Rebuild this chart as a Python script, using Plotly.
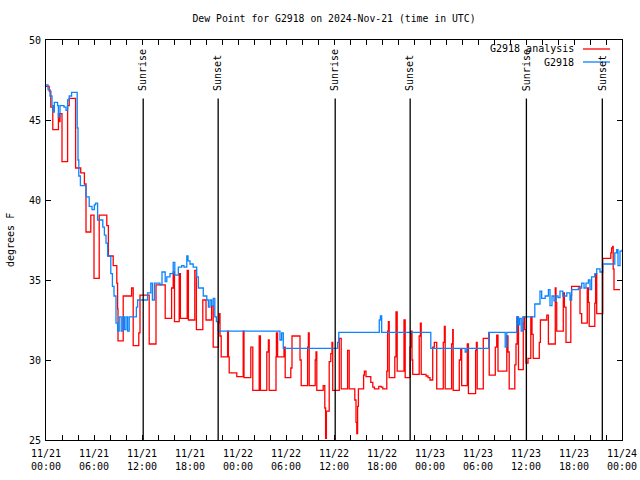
import pandas as pd
import plotly.graph_objects as go

# ---- data (hours since 2024-11-21 00:00 UTC, dew point degrees F) ----
red_hours = [0.0, 0.4, 0.6, 0.85, 1.55, 1.65, 1.75, 2.0, 2.7, 2.9, 3.7, 4.34, 4.8, 5.0, 5.6, 6.0, 6.65, 7.6, 7.8, 8.4,
             8.85, 8.95, 9.0, 9.65, 10.7, 10.9, 11.6, 11.75, 12.9, 13.75, 14.9, 15.7, 15.9, 16.06, 16.65, 16.8, 17.65, 17.8,
             18.6, 18.8, 19.6, 20.0, 20.7, 20.9, 21.55, 21.66, 21.75, 21.9, 22.7, 22.8, 22.9, 23.85, 24.65, 24.75, 25.6,
             25.85, 26.65, 26.8, 27.6, 27.8, 27.9, 28.75, 28.8, 28.95, 29.75, 29.9, 30.6, 30.75, 31.75, 31.9, 32.7, 32.8,
             32.9, 33.65, 33.75, 33.85, 34.65, 34.85, 34.95, 35.05, 35.4, 35.6, 35.75, 35.84, 36.66, 36.9, 37.7, 37.9,
             38.6, 38.75, 38.85, 38.95, 39.05, 39.7, 39.8, 40.0, 40.6, 40.85, 41.05, 41.6, 41.9, 42.1, 42.6, 42.7, 42.8,
             42.9, 43.6, 43.75, 43.9, 44.75, 44.9, 45.5, 45.6, 45.75, 45.84, 46.65, 46.8, 46.9, 47.5, 47.75, 48.0, 48.34,
             48.54, 48.84, 49.66, 49.8, 49.9, 50.7, 50.84, 50.9, 51.66, 51.84, 51.96, 52.66, 52.8, 53.7, 53.8, 53.9,
             54.66, 55.34, 55.4, 56.16, 56.34, 56.5, 57.6, 57.75, 57.9, 58.6, 58.75, 58.9, 59.06, 59.66, 59.75, 59.84,
             60.0, 60.25, 60.6, 60.75, 60.9, 61.66, 61.8, 62.6, 62.8, 63.66, 63.75, 63.84, 64.66, 64.8, 65.0, 65.6, 65.7,
             66.75, 66.96, 67.66, 67.8, 67.9, 68.6, 68.7, 68.84, 69.6, 70.6, 70.7, 70.84, 70.9, 71.0, 71.75]
red_vals = [47.1, 46.8, 45.8, 44.4, 45.4, 44.9, 45.4, 42.4, 45.9, 46.35, 42.0, 41.7, 41.0, 38.0, 39.06, 35.1, 39.06, 38.4,
            36.5, 35.9, 34.8, 33.2, 31.2, 34.0, 34.5, 30.9, 31.7, 34.06, 31.0, 34.7, 32.6, 34.5, 35.5, 32.4, 35.4, 32.6,
            35.6, 32.5, 35.6, 31.9, 33.75, 32.5, 33.4, 30.8, 32.3, 32.9, 31.5, 30.2, 31.8, 30.2, 29.2, 28.96, 31.8, 28.9,
            30.8, 28.1, 31.5, 28.1, 30.5, 31.25, 28.1, 30.2, 31.7, 30.2, 30.8, 28.9, 29.5, 31.5, 30.0, 28.4, 30.8, 31.7,
            28.4, 30.0, 30.5, 28.1, 28.4, 27.0, 25.1, 26.8, 29.9, 30.4, 31.1, 28.1, 31.35, 28.2, 30.6, 28.2, 27.5, 26.1,
            25.4, 27.1, 28.2, 29.06, 29.3, 28.96, 28.6, 28.3, 28.2, 28.35, 28.3, 28.2, 29.3, 31.8, 32.4, 28.9, 30.2, 33.0,
            29.3, 32.5, 28.9, 30.8, 31.8, 30.0, 29.1, 31.5, 32.3, 29.1, 29.0, 28.9, 28.75, 30.8, 31.1, 28.2, 31.1, 32.1,
            28.2, 31.0, 31.9, 28.1, 30.0, 30.7, 28.4, 31.0, 27.9, 30.6, 31.1, 28.2, 31.35, 31.7, 29.06, 30.8, 31.56, 29.3,
            31.5, 30.5, 28.2, 29.7, 31.0, 32.7, 29.4, 32.3, 32.7, 31.9, 29.8, 30.1, 32.7, 31.6, 30.1, 31.1, 32.5, 32.8,
            31.0, 34.5, 33.6, 31.8, 34.2, 33.3, 31.1, 34.06, 34.6, 32.9, 32.3, 34.5, 33.6, 32.1, 33.55, 35.4, 32.9, 36.35,
            36.7, 37.0, 37.1, 35.7, 34.4, 34.4]

blue_hours = [0.0, 0.25, 0.5, 0.75, 0.9, 1.04, 1.45, 1.55, 1.75, 2.25, 2.5, 2.7, 2.9, 3.2, 3.9, 4.0, 4.1, 4.3, 4.4, 5.0,
              5.4, 5.75, 6.04, 6.2, 6.45, 7.1, 7.3, 7.5, 7.7, 8.1, 8.3, 8.5, 8.75, 8.95, 9.15, 9.4, 9.6, 9.8, 10.0, 10.2,
              10.4, 10.55, 11.3, 11.45, 12.7, 13.1, 13.3, 13.55, 14.25, 14.5, 14.9, 15.1, 15.5, 15.9, 16.1, 16.54, 16.96,
              17.25, 17.6, 17.75, 18.0, 18.4, 18.84, 19.04, 19.66, 20.1, 20.3, 20.5, 20.7, 20.9, 21.1, 21.3, 21.54,
              29.25, 29.46, 29.66, 36.46, 36.6, 41.66, 41.8, 41.96, 48.1, 52.4, 52.6, 55.34, 57.4, 57.6, 58.84, 59.04,
              59.2, 59.4, 59.6, 61.1, 61.5, 61.75, 61.96, 62.4, 62.8, 63.0, 63.25, 63.5, 63.75, 64.0, 64.25, 64.6, 65.1,
              65.5, 65.7, 66.54, 66.96, 67.25, 67.5, 67.8, 68.0, 68.2, 68.6, 68.84, 69.25, 69.6, 71.1, 71.34, 71.5,
              71.75, 72.0]
blue_vals = [47.2, 46.9, 46.5, 45.9, 45.5, 46.1, 45.9, 45.2, 45.9, 45.8, 45.6, 46.25, 46.5, 46.73, 44.5, 42.5, 41.5,
             40.9, 40.9, 40.2, 39.6, 39.4, 39.7, 39.8, 38.75, 38.3, 37.8, 37.3, 36.5, 35.4, 34.6, 34.0, 32.3, 31.8, 32.7,
             31.8, 32.7, 31.9, 32.7, 31.8, 32.7, 32.7, 33.3, 33.75, 34.2, 34.8, 33.75, 34.8, 34.7, 35.5, 34.9, 35.2, 35.4,
             36.1, 35.3, 35.8, 35.9, 35.8, 36.5, 36.2, 36.0, 35.8, 35.2, 34.5, 34.0, 33.75, 33.3, 33.75, 33.4, 33.85,
             32.7, 32.4, 31.8, 31.25, 31.7, 30.73, 31.1, 31.73, 32.5, 32.75, 31.73, 30.73, 30.5, 30.73, 31.73, 30.8,
             31.73, 32.7, 32.2, 32.6, 31.8, 32.7, 33.5, 33.5, 34.3, 33.85, 34.0, 34.4, 33.4, 34.0, 33.7, 34.0, 33.9,
             34.3, 34.0, 34.2, 33.75, 34.4, 34.5, 34.8, 34.5, 34.8, 35.0, 34.4, 35.2, 35.4, 35.7, 35.5, 36.0, 36.7,
             36.9, 35.9, 36.8, 36.9]

sunrise_hours = [12.15, 36.15, 60.05]
sunset_hours = [21.52, 45.52, 69.54]

tick_hours = list(range(0, 73, 2))
tick_labels = ["11/21<br>00:00", "11/21<br>06:00", "11/21<br>12:00", "11/21<br>18:00",
               "11/22<br>00:00", "11/22<br>06:00", "11/22<br>12:00", "11/22<br>18:00",
               "11/23<br>00:00", "11/23<br>06:00", "11/23<br>12:00", "11/23<br>18:00",
               "11/24<br>00:00"]
y_ticks = [25, 30, 35, 40, 45, 50]

# ---- build ----
base = pd.Timestamp("2024-11-21 00:00")
def t(h):
    return base + pd.to_timedelta(h, unit="h")

FONT = "DejaVu Sans Mono"
fig = go.Figure()
fig.add_trace(go.Scatter(x=[t(h) for h in red_hours], y=red_vals, mode="lines",
                         line=dict(color="#ff0000", width=1.3, shape="hv"), name="G2918 analysis"))
fig.add_trace(go.Scatter(x=[t(h) for h in blue_hours], y=blue_vals, mode="lines",
                         line=dict(color="#0a84ff", width=1.3, shape="hv"), name="G2918"))

shapes = []
annotations = []
for label, hrs in (("Sunrise", sunrise_hours), ("Sunset", sunset_hours)):
    for h in hrs:
        shapes.append(dict(type="line", xref="x", yref="y", x0=t(h), x1=t(h), y0=25, y1=46.35,
                           line=dict(color="black", width=1.3)))
        annotations.append(dict(x=t(h), y=46.7, xref="x", yref="y", text=label, textangle=-90,
                                showarrow=False, xanchor="center", yanchor="bottom",
                                font=dict(family=FONT, size=10, color="black")))

# legend (gnuplot style, key text right-aligned with sample line on the right)
for i, (name, col) in enumerate((("G2918 analysis", "#ff0000"), ("G2918", "#0a84ff"))):
    ypx = 49 + 13 * i
    yp = 1 - (ypx - 40) / 400
    annotations.append(dict(x=(576 - 46) / 576, y=yp, xref="paper", yref="paper", text=name,
                            showarrow=False, xanchor="right", yanchor="middle",
                            font=dict(family=FONT, size=10, color="black")))
    shapes.append(dict(type="line", xref="paper", yref="paper", x0=(583 - 46) / 576, x1=(610 - 46) / 576,
                       y0=yp, y1=yp, line=dict(color=col, width=1.3)))

annotations.append(dict(x=(10 - 46) / 576, y=0.5, xref="paper", yref="paper", text="degrees F",
                        textangle=-90, showarrow=False, xanchor="center", yanchor="middle",
                        font=dict(family=FONT, size=10, color="black")))

ticktext = [tick_labels[h // 6] if h % 6 == 0 else "" for h in tick_hours]

fig.update_layout(
    width=640, height=480,
    margin=dict(l=46, r=18, t=40, b=40, autoexpand=False),
    paper_bgcolor="white", plot_bgcolor="white",
    showlegend=False,
    title=dict(text="Dew Point for G2918 on 2024-Nov-21 (time in UTC)", x=(334) / 640, xanchor="center",
               y=1 - 19 / 480, yanchor="middle", font=dict(family=FONT, size=9.8, color="black")),
    font=dict(family=FONT, size=10, color="black"),
    shapes=shapes, annotations=annotations,
)
fig.update_xaxes(range=[t(0), t(72)], tickvals=[t(h) for h in tick_hours], ticktext=ticktext,
                 ticks="inside", ticklen=5, tickcolor="black", showline=True, linecolor="black",
                 linewidth=1, mirror="ticks", showgrid=False, zeroline=False, automargin=False,
                 ticklabelstandoff=4, tickfont=dict(family=FONT, size=10, color="black"))
fig.update_yaxes(range=[25, 50], tickvals=y_ticks, ticks="inside", ticklen=5, tickcolor="black",
                 showline=True, linecolor="black", linewidth=1, mirror="ticks", showgrid=False,
                 zeroline=False, automargin=False, ticklabelstandoff=2,
                 tickfont=dict(family=FONT, size=10, color="black"))

fig.write_html("out.html",
               config={"displayModeBar": False},
               post_script="document.body.style.margin='0';document.body.style.padding='0';"
                           "document.body.style.overflow='hidden';")
